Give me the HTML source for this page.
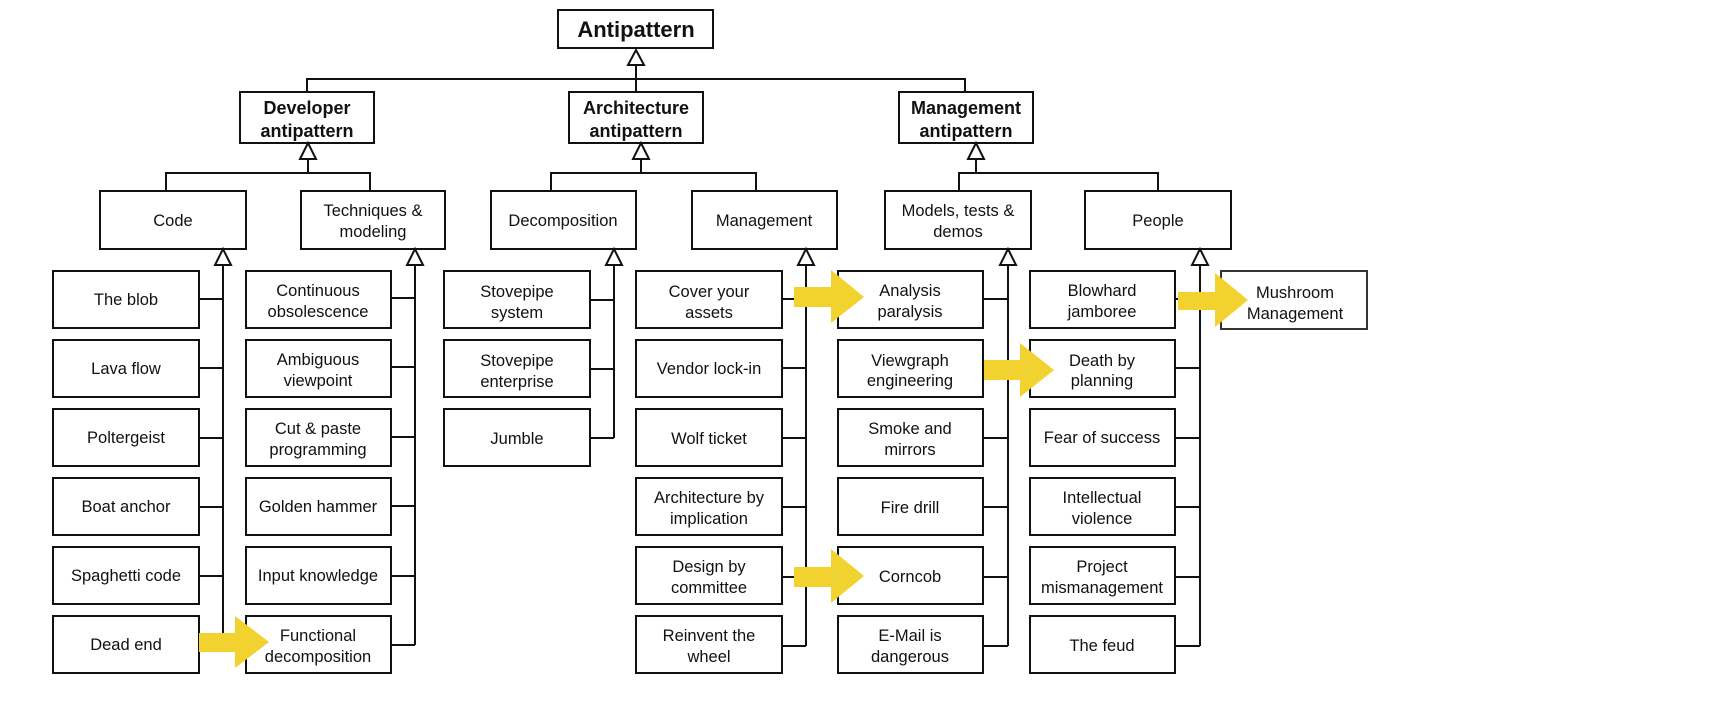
<!DOCTYPE html>
<html><head><meta charset="utf-8"><style>
html,body{margin:0;padding:0;background:#fff;width:1718px;height:714px;overflow:hidden}
svg text{font-family:"Liberation Sans",Arial,sans-serif;fill:#111}
</style></head><body>
<svg width="1718" height="714" viewBox="0 0 1718 714" xmlns="http://www.w3.org/2000/svg">
<g fill="none" stroke="#111" stroke-width="2">
<!-- top -->
<rect x="558" y="10" width="155" height="38"/>
<polygon points="636,50 628,65 644,65" fill="#fff"/>
<line x1="636" y1="65" x2="636" y2="79"/>
<polyline points="307,92 307,79 965,79 965,92"/>
<line x1="636" y1="79" x2="636" y2="92"/>
<rect x="240" y="92" width="134" height="51"/>
<rect x="569" y="92" width="134" height="51"/>
<rect x="899" y="92" width="134" height="51"/>
<!-- level2 connectors -->
<polygon points="308,143 300,159 316,159" fill="#fff"/>
<line x1="308" y1="159" x2="308" y2="173"/>
<polyline points="166,191 166,173 370,173 370,191"/>
<polygon points="641,143 633,159 649,159" fill="#fff"/>
<line x1="641" y1="159" x2="641" y2="173"/>
<polyline points="551,191 551,173 756,173 756,191"/>
<polygon points="976,143 968,159 984,159" fill="#fff"/>
<line x1="976" y1="159" x2="976" y2="173"/>
<polyline points="959,191 959,173 1158,173 1158,191"/>
<rect x="100" y="191" width="146" height="58"/>
<rect x="301" y="191" width="144" height="58"/>
<rect x="491" y="191" width="145" height="58"/>
<rect x="692" y="191" width="145" height="58"/>
<rect x="885" y="191" width="146" height="58"/>
<rect x="1085" y="191" width="146" height="58"/>
<!-- vertical trunks -->
<polygon points="223,249 215,265 231,265" fill="#fff"/><line x1="223" y1="265" x2="223" y2="645"/>
<polygon points="415,249 407,265 423,265" fill="#fff"/><line x1="415" y1="265" x2="415" y2="645"/>
<polygon points="614,249 606,265 622,265" fill="#fff"/><line x1="614" y1="265" x2="614" y2="438"/>
<polygon points="806,249 798,265 814,265" fill="#fff"/><line x1="806" y1="265" x2="806" y2="646"/>
<polygon points="1008,249 1000,265 1016,265" fill="#fff"/><line x1="1008" y1="265" x2="1008" y2="646"/>
<polygon points="1200,249 1192,265 1208,265" fill="#fff"/><line x1="1200" y1="265" x2="1200" y2="646"/>
</g>
<g fill="none" stroke="#111" stroke-width="2" id="leaves">
<!-- code column -->
<rect x="53" y="271" width="146" height="57"/><line x1="199" y1="299" x2="223" y2="299"/>
<rect x="53" y="340" width="146" height="57"/><line x1="199" y1="368" x2="223" y2="368"/>
<rect x="53" y="409" width="146" height="57"/><line x1="199" y1="438" x2="223" y2="438"/>
<rect x="53" y="478" width="146" height="57"/><line x1="199" y1="507" x2="223" y2="507"/>
<rect x="53" y="547" width="146" height="57"/><line x1="199" y1="576" x2="223" y2="576"/>
<rect x="53" y="616" width="146" height="57"/>
<!-- tech -->
<rect x="246" y="271" width="145" height="57"/><line x1="391" y1="298" x2="415" y2="298"/>
<rect x="246" y="340" width="145" height="57"/><line x1="391" y1="367" x2="415" y2="367"/>
<rect x="246" y="409" width="145" height="57"/><line x1="391" y1="437" x2="415" y2="437"/>
<rect x="246" y="478" width="145" height="57"/><line x1="391" y1="506" x2="415" y2="506"/>
<rect x="246" y="547" width="145" height="57"/><line x1="391" y1="576" x2="415" y2="576"/>
<rect x="246" y="616" width="145" height="57"/><line x1="391" y1="645" x2="415" y2="645"/>
<!-- decomposition -->
<rect x="444" y="271" width="146" height="57"/><line x1="590" y1="300" x2="614" y2="300"/>
<rect x="444" y="340" width="146" height="57"/><line x1="590" y1="369" x2="614" y2="369"/>
<rect x="444" y="409" width="146" height="57"/><line x1="590" y1="438" x2="614" y2="438"/>
<!-- management -->
<rect x="636" y="271" width="146" height="57"/><line x1="782" y1="299" x2="806" y2="299"/>
<rect x="636" y="340" width="146" height="57"/><line x1="782" y1="368" x2="806" y2="368"/>
<rect x="636" y="409" width="146" height="57"/><line x1="782" y1="438" x2="806" y2="438"/>
<rect x="636" y="478" width="146" height="57"/><line x1="782" y1="507" x2="806" y2="507"/>
<rect x="636" y="547" width="146" height="57"/><line x1="782" y1="577" x2="806" y2="577"/>
<rect x="636" y="616" width="146" height="57"/><line x1="782" y1="646" x2="806" y2="646"/>
<!-- models -->
<rect x="838" y="271" width="145" height="57"/><line x1="983" y1="299" x2="1008" y2="299"/>
<rect x="838" y="340" width="145" height="57"/><line x1="983" y1="368" x2="1008" y2="368"/>
<rect x="838" y="409" width="145" height="57"/><line x1="983" y1="438" x2="1008" y2="438"/>
<rect x="838" y="478" width="145" height="57"/><line x1="983" y1="507" x2="1008" y2="507"/>
<rect x="838" y="547" width="145" height="57"/><line x1="983" y1="577" x2="1008" y2="577"/>
<rect x="838" y="616" width="145" height="57"/><line x1="983" y1="646" x2="1008" y2="646"/>
<!-- people -->
<rect x="1030" y="271" width="145" height="57"/><line x1="1175" y1="299" x2="1200" y2="299"/>
<rect x="1030" y="340" width="145" height="57"/><line x1="1175" y1="368" x2="1200" y2="368"/>
<rect x="1030" y="409" width="145" height="57"/><line x1="1175" y1="438" x2="1200" y2="438"/>
<rect x="1030" y="478" width="145" height="57"/><line x1="1175" y1="507" x2="1200" y2="507"/>
<rect x="1030" y="547" width="145" height="57"/><line x1="1175" y1="577" x2="1200" y2="577"/>
<rect x="1030" y="616" width="145" height="57"/><line x1="1175" y1="646" x2="1200" y2="646"/>
<rect x="1221" y="271" width="146" height="58" stroke="#333"/>
</g>
<!-- yellow arrows -->
<g fill="#f2d22e">
<polygon points="199,633 235,633 235,616 269,642 235,668 235,652 199,652"/>
<polygon points="794,287 831,287 831,270 864,297 831,323 831,307 794,307"/>
<polygon points="794,567 831,567 831,549 864,576 831,603 831,587 794,587"/>
<polygon points="984,360 1020,360 1020,343 1054,370 1020,397 1020,380 984,380"/>
<polygon points="1178,292 1215,292 1215,273 1248,300 1215,327 1215,310 1178,310"/>
</g>
<g font-size="22" font-weight="bold" text-anchor="middle">
<text x="636" y="37">Antipattern</text>
</g>
<g font-size="18" font-weight="bold" text-anchor="middle">
<text x="307" y="114">Developer</text><text x="307" y="137">antipattern</text>
<text x="636" y="114">Architecture</text><text x="636" y="137">antipattern</text>
<text x="966" y="114">Management</text><text x="966" y="137">antipattern</text>
</g>
<g font-size="16.5" text-anchor="middle">
<text x="173" y="226">Code</text>
<text x="373" y="216">Techniques &amp;</text><text x="373" y="237">modeling</text>
<text x="563" y="226">Decomposition</text>
<text x="764" y="226">Management</text>
<text x="958" y="216">Models, tests &amp;</text><text x="958" y="237">demos</text>
<text x="1158" y="226">People</text>

<text x="126" y="305">The blob</text>
<text x="126" y="374">Lava flow</text>
<text x="126" y="443">Poltergeist</text>
<text x="126" y="512">Boat anchor</text>
<text x="126" y="581">Spaghetti code</text>
<text x="126" y="650">Dead end</text>

<text x="318" y="296">Continuous</text><text x="318" y="317">obsolescence</text>
<text x="318" y="365">Ambiguous</text><text x="318" y="386">viewpoint</text>
<text x="318" y="434">Cut &amp; paste</text><text x="318" y="455">programming</text>
<text x="318" y="512">Golden hammer</text>
<text x="318" y="581">Input knowledge</text>
<text x="318" y="641">Functional</text><text x="318" y="662">decomposition</text>

<text x="517" y="297">Stovepipe</text><text x="517" y="318">system</text>
<text x="517" y="366">Stovepipe</text><text x="517" y="387">enterprise</text>
<text x="517" y="444">Jumble</text>

<text x="709" y="297">Cover your</text><text x="709" y="318">assets</text>
<text x="709" y="374">Vendor lock-in</text>
<text x="709" y="444">Wolf ticket</text>
<text x="709" y="503">Architecture by</text><text x="709" y="524">implication</text>
<text x="709" y="572">Design by</text><text x="709" y="593">committee</text>
<text x="709" y="641">Reinvent the</text><text x="709" y="662">wheel</text>

<text x="910" y="296">Analysis</text><text x="910" y="317">paralysis</text>
<text x="910" y="366">Viewgraph</text><text x="910" y="386">engineering</text>
<text x="910" y="434">Smoke and</text><text x="910" y="455">mirrors</text>
<text x="910" y="513">Fire drill</text>
<text x="910" y="582">Corncob</text>
<text x="910" y="641">E-Mail is</text><text x="910" y="662">dangerous</text>

<text x="1102" y="296">Blowhard</text><text x="1102" y="317">jamboree</text>
<text x="1102" y="366">Death by</text><text x="1102" y="386">planning</text>
<text x="1102" y="443">Fear of success</text>
<text x="1102" y="503">Intellectual</text><text x="1102" y="524">violence</text>
<text x="1102" y="572">Project</text><text x="1102" y="593">mismanagement</text>
<text x="1102" y="651">The feud</text>

<text x="1295" y="298" fill="#333">Mushroom</text><text x="1295" y="319" fill="#333">Management</text>
</g>
</svg>
</body></html>
